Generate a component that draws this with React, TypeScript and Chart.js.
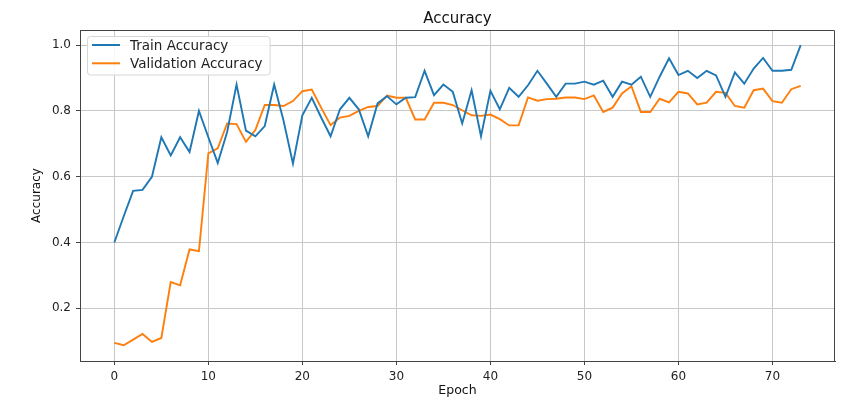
import React, { useEffect, useRef } from 'react';
import { Chart, registerables } from 'chart.js';
Chart.register(...registerables);

const epochs: number[] = Array.from({ length: 74 }, (_, i) => i);
const trainAccuracy: number[] = [
  0.40, 0.48, 0.557, 0.56, 0.60, 0.72, 0.665, 0.72, 0.675, 0.80,
  0.72, 0.642, 0.736, 0.88, 0.74, 0.723, 0.754, 0.88, 0.77, 0.64,
  0.787, 0.84, 0.78, 0.723, 0.805, 0.84, 0.805, 0.723, 0.823, 0.845,
  0.82, 0.84, 0.842, 0.922, 0.848, 0.88, 0.858, 0.762, 0.863, 0.723,
  0.861, 0.805, 0.87, 0.843, 0.878, 0.922, 0.883, 0.843, 0.883, 0.883,
  0.889, 0.88, 0.892, 0.843, 0.889, 0.88, 0.904, 0.843, 0.904, 0.96,
  0.909, 0.922, 0.90, 0.922, 0.908, 0.843, 0.917, 0.883, 0.929, 0.961,
  0.922, 0.922, 0.925, 1.0,
];
const valAccuracy: number[] = [
  0.095, 0.088, 0.105, 0.122, 0.098, 0.11, 0.28, 0.27, 0.379, 0.374,
  0.671, 0.686, 0.762, 0.76, 0.706, 0.742, 0.818, 0.818, 0.815, 0.83,
  0.86, 0.865, 0.81, 0.757, 0.78, 0.785, 0.80, 0.812, 0.815, 0.847,
  0.84, 0.84, 0.774, 0.774, 0.825, 0.825, 0.818, 0.802, 0.787, 0.785,
  0.789, 0.775, 0.756, 0.756, 0.841, 0.831, 0.836, 0.837, 0.841, 0.841,
  0.836, 0.847, 0.797, 0.81, 0.853, 0.875, 0.797, 0.797, 0.837, 0.826,
  0.858, 0.853, 0.82, 0.825, 0.858, 0.855, 0.815, 0.81, 0.863, 0.868,
  0.83, 0.825, 0.866, 0.876,
];
const xTicks: number[] = [0, 10, 20, 30, 40, 50, 60, 70];
const yTicks: number[] = [0.2, 0.4, 0.6, 0.8, 1.0];
const seriesNames: string[] = ['Train Accuracy', 'Validation Accuracy'];
const seriesColors: string[] = ['#1f77b4', '#ff7f0e'];

const FONT = "'DejaVu Sans', sans-serif";
const SPINE = '#444';

const framePlugin = {
  id: 'frame',
  afterDatasetsDraw(chart: any) {
    const { ctx, chartArea: a } = chart;
    ctx.save();
    ctx.strokeStyle = SPINE;
    ctx.lineWidth = 1;
    ctx.beginPath();
    ctx.moveTo(a.left, a.top + 0.5);
    ctx.lineTo(a.right - 0.5, a.top + 0.5);
    ctx.lineTo(a.right - 0.5, a.bottom);
    ctx.stroke();
    ctx.restore();
  },
};

const legendPlugin = {
  id: 'innerLegend',
  afterDraw(chart: any) {
    const { ctx, chartArea: a } = chart;
    ctx.save();
    ctx.font = `13.5px ${FONT}`;
    const textW = Math.max(...seriesNames.map((n) => ctx.measureText(n).width));
    const x0 = a.left + 7;
    const y0 = a.top + 6;
    const w = 43 + textW + 7;
    const h = 38.5;
    ctx.fillStyle = 'rgba(255,255,255,0.85)';
    ctx.strokeStyle = '#d6d6d6';
    ctx.lineWidth = 1;
    ctx.beginPath();
    (ctx as any).roundRect(x0 + 0.5, y0 + 0.5, w, h, 3);
    ctx.fill();
    ctx.stroke();
    seriesNames.forEach((name, i) => {
      const cy = y0 + 9 + i * 18.3;
      ctx.strokeStyle = seriesColors[i];
      ctx.lineWidth = 2;
      ctx.beginPath();
      ctx.moveTo(x0 + 5, cy);
      ctx.lineTo(x0 + 33, cy);
      ctx.stroke();
      ctx.fillStyle = '#222';
      ctx.textBaseline = 'middle';
      ctx.textAlign = 'left';
      ctx.fillText(name, x0 + 43, cy + 1);
    });
    ctx.restore();
  },
};

export default function App() {
  const ref = useRef<HTMLCanvasElement>(null);
  useEffect(() => {
    if (!ref.current) return;
    const chart = new Chart(ref.current, {
      type: 'line',
      data: {
        datasets: [trainAccuracy, valAccuracy].map((vals, i) => ({
          label: seriesNames[i],
          data: vals.map((v, j) => ({ x: epochs[j], y: v })),
          borderColor: seriesColors[i],
          backgroundColor: seriesColors[i],
          borderWidth: 1.9,
          pointRadius: 0,
          tension: 0,
          fill: false,
        })),
      },
      options: {
        animation: false,
        responsive: false,
        layout: { padding: { left: 0, right: 25, top: 0, bottom: 0 } },
        plugins: {
          legend: { display: false },
          tooltip: { enabled: false },
          title: {
            display: true,
            text: 'Accuracy',
            fullSize: false,
            color: '#111',
            font: { family: FONT, size: 15, weight: 'normal' },
            padding: { top: 9.7, bottom: 2.3 },
          },
        },
        scales: {
          x: {
            type: 'linear',
            min: -3.65,
            max: 76.65,
            afterBuildTicks: (axis: any) => {
              axis.ticks = xTicks.map((v) => ({ value: v }));
            },
            afterFit: (axis: any) => {
              axis.height = 39;
            },
            grid: { color: '#c8c8c8', lineWidth: 1, tickColor: SPINE, tickLength: 4, drawTicks: true },
            border: { display: true, color: SPINE, width: 1 },
            ticks: { color: '#222', font: { family: FONT, size: 12 }, padding: 5, maxRotation: 0 },
            title: { display: true, text: 'Epoch', color: '#111', font: { family: FONT, size: 12.5 }, padding: { top: 0, bottom: 2 } },
          },
          y: {
            type: 'linear',
            min: 0.04,
            max: 1.046,
            afterBuildTicks: (axis: any) => {
              axis.ticks = yTicks.map((v) => ({ value: v }));
            },
            afterFit: (axis: any) => {
              axis.width = 80;
            },
            grid: { color: '#c8c8c8', lineWidth: 1, tickColor: SPINE, tickLength: 4, drawTicks: true },
            border: { display: true, color: SPINE, width: 1 },
            ticks: {
              color: '#222',
              font: { family: FONT, size: 12 },
              padding: 5,
              callback: (v: any) => Number(v).toFixed(1),
            },
            title: { display: true, text: 'Accuracy', color: '#111', font: { family: FONT, size: 12 }, padding: { top: 30, bottom: 0 } },
          },
        },
      },
      plugins: [framePlugin, legendPlugin],
    } as any);
    return () => chart.destroy();
  }, []);
  return (
    <div style={{ position: 'absolute', left: 0, top: 0, width: 860, height: 400, background: '#fff' }}>
      <canvas ref={ref} width={860} height={400} />
    </div>
  );
}
